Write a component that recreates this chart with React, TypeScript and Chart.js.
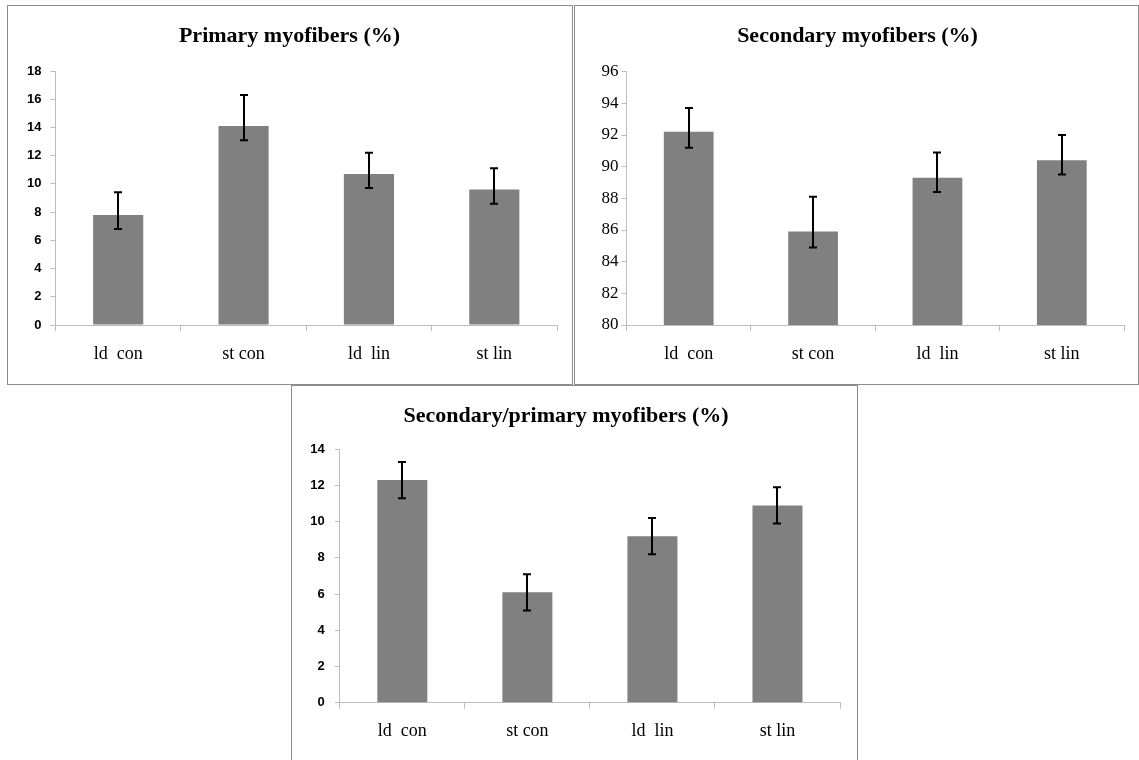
import React, { useEffect, useRef } from "react";
import { Chart, registerables } from "chart.js";

Chart.register(...registerables);

const categories = ["ld  con", "st con", "ld  lin", "st lin"];

const primaryValues = [7.8, 14.1, 10.7, 9.6];
const primaryHigh = [9.4, 16.3, 12.2, 11.1];
const primaryLow = [6.8, 13.1, 9.7, 8.6];
const primaryTicks = { min: 0, max: 18, step: 2 };

const secondaryValues = [92.2, 85.9, 89.3, 90.4];
const secondaryHigh = [93.7, 88.1, 90.9, 92.0];
const secondaryLow = [91.2, 84.9, 88.4, 89.5];
const secondaryTicks = { min: 80, max: 96, step: 2 };

const ratioValues = [12.3, 6.1, 9.2, 10.9];
const ratioHigh = [13.3, 7.1, 10.2, 11.9];
const ratioLow = [11.3, 5.1, 8.2, 9.9];
const ratioTicks = { min: 0, max: 14, step: 2 };

const titles = [
  "Primary myofibers (%)",
  "Secondary myofibers (%)",
  "Secondary/primary myofibers (%)",
];

const errorBarPlugin = {
  id: "errorBars",
  afterDatasetsDraw(chart: any, _args: any, opts: any) {
    const { hi, lo } = opts;
    if (!hi || !lo) return;
    const ctx = chart.ctx;
    const meta = chart.getDatasetMeta(0);
    const y = chart.scales.y;
    ctx.save();
    ctx.strokeStyle = "#000";
    ctx.lineWidth = 2;
    meta.data.forEach((bar: any, i: number) => {
      const x = Math.round(bar.x);
      const yh = y.getPixelForValue(hi[i]);
      const yl = y.getPixelForValue(lo[i]);
      ctx.beginPath();
      ctx.moveTo(x, yh);
      ctx.lineTo(x, yl);
      ctx.moveTo(x - 4, yh);
      ctx.lineTo(x + 4, yh);
      ctx.moveTo(x - 4, yl);
      ctx.lineTo(x + 4, yl);
      ctx.stroke();
    });
    ctx.restore();
  },
};

type PanelProps = {
  left: number;
  top: number;
  width: number;
  height: number;
  noBottom?: boolean;
  title: string;
  values: number[];
  hi: number[];
  lo: number[];
  ticks: { min: number; max: number; step: number };
  tickFont: any;
  tickPadding: number;
  padL: number;
  padR: number;
  yWidth: number;
  xHeight: number;
  titleTop: number;
  titleBottom: number;
};

function Panel(p: PanelProps) {
  const ref = useRef<HTMLCanvasElement | null>(null);
  const cw = p.width - 2;
  const ch = p.noBottom ? p.height - 1 : p.height - 2;
  useEffect(() => {
    if (!ref.current) return;
    const axisColor = "#bdbdbd";
    const chart = new Chart(ref.current, {
      type: "bar",
      data: {
        labels: categories,
        datasets: [
          {
            data: p.values,
            backgroundColor: "#808080",
            borderWidth: 0,
            categoryPercentage: 1,
            barPercentage: 0.4,
          },
        ],
      },
      options: {
        animation: false,
        responsive: false,
        devicePixelRatio: 1,
        layout: { padding: { left: p.padL, right: p.padR, top: 0, bottom: 0 } },
        plugins: {
          legend: { display: false },
          tooltip: { enabled: false },
          title: {
            display: true,
            text: p.title,
            color: "#000",
            font: { family: "'Liberation Serif', serif", size: 22, weight: "bold", lineHeight: 1.2 },
            padding: { top: p.titleTop, bottom: p.titleBottom },
          },
          errorBars: { hi: p.hi, lo: p.lo },
        } as any,
        scales: {
          x: {
            offset: true,
            border: { color: axisColor, width: 1 },
            grid: {
              display: true,
              offset: true,
              drawOnChartArea: false,
              drawTicks: true,
              tickLength: 6,
              color: axisColor,
            },
            ticks: {
              color: "#000",
              font: { family: "'Liberation Serif', serif", size: 18 },
              padding: 12,
              maxRotation: 0,
              autoSkip: false,
            },
            afterFit: (s: any) => {
              s.height = p.xHeight;
            },
          },
          y: {
            min: p.ticks.min,
            max: p.ticks.max,
            border: { color: axisColor, width: 1 },
            grid: {
              display: true,
              drawOnChartArea: false,
              drawTicks: true,
              tickLength: 5,
              color: axisColor,
            },
            ticks: {
              stepSize: p.ticks.step,
              color: "#000",
              font: p.tickFont,
              padding: p.tickPadding,
            },
            afterFit: (s: any) => {
              s.width = p.yWidth;
            },
          },
        },
      },
      plugins: [errorBarPlugin],
    } as any);
    return () => chart.destroy();
  }, []);
  return (
    <div
      style={{
        position: "absolute",
        left: p.left,
        top: p.top,
        width: p.width,
        height: p.height,
        boxSizing: "border-box",
        border: "1px solid #8c8c8c",
        borderBottom: p.noBottom ? "none" : "1px solid #8c8c8c",
        background: "#fff",
      }}
    >
      <canvas ref={ref} width={cw} height={ch} style={{ display: "block", width: cw, height: ch }} />
    </div>
  );
}

export default function App() {
  const sansTick = { family: "'Liberation Sans', sans-serif", size: 13, weight: "bold" };
  const serifTick = { family: "'Liberation Serif', serif", size: 17 };
  return (
    <div
      style={{
        position: "absolute",
        left: 0,
        top: 0,
        width: 1139,
        height: 760,
        overflow: "hidden",
        background: "#fff",
      }}
    >
      <Panel
        left={7}
        top={5}
        width={566}
        height={380}
        title={titles[0]}
        values={primaryValues}
        hi={primaryHigh}
        lo={primaryLow}
        ticks={primaryTicks}
        tickFont={sansTick}
        tickPadding={9}
        padL={14}
        padR={15}
        yWidth={33.5}
        xHeight={59}
        titleTop={17}
        titleBottom={21.6}
      />
      <Panel
        left={574}
        top={5}
        width={565}
        height={380}
        title={titles[1]}
        values={secondaryValues}
        hi={secondaryHigh}
        lo={secondaryLow}
        ticks={secondaryTicks}
        tickFont={serifTick}
        tickPadding={3}
        padL={16}
        padR={14}
        yWidth={35.5}
        xHeight={59}
        titleTop={17}
        titleBottom={22.3}
      />
      <Panel
        left={291}
        top={385}
        width={567}
        height={375}
        noBottom
        title={titles[2]}
        values={ratioValues}
        hi={ratioHigh}
        lo={ratioLow}
        ticks={ratioTicks}
        tickFont={sansTick}
        tickPadding={10}
        padL={0}
        padR={17}
        yWidth={47.8}
        xHeight={57.3}
        titleTop={17}
        titleBottom={19.9}
      />
    </div>
  );
}
